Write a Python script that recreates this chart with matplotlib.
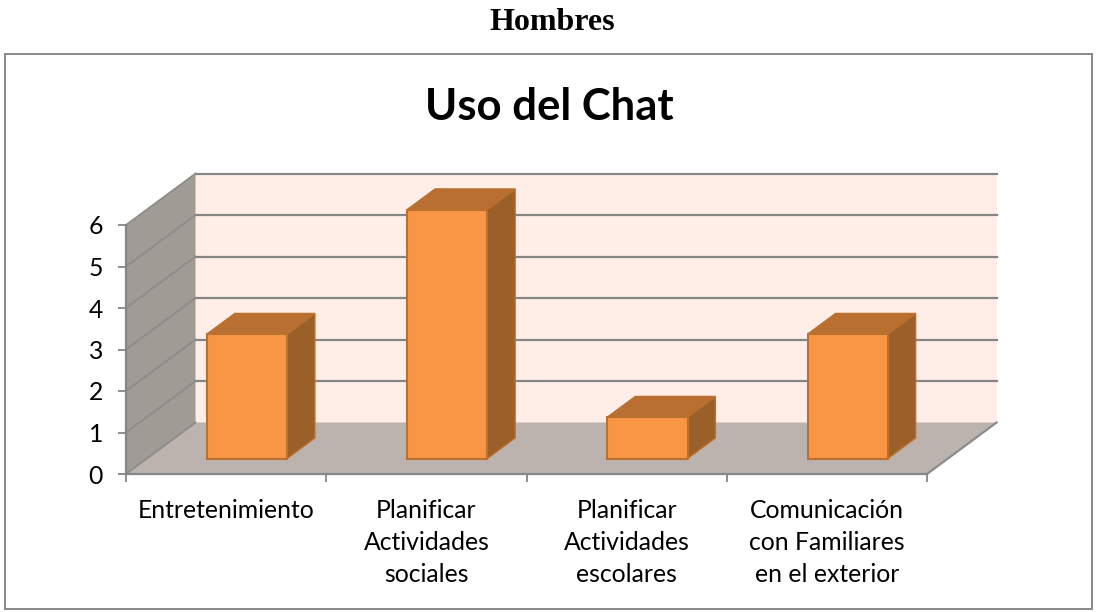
import matplotlib
matplotlib.use("Agg")
import matplotlib.pyplot as plt
from matplotlib.patches import Polygon, Rectangle

categories = ["Entretenimiento", "Planificar\nActividades\nsociales",
              "Planificar\nActividades\nescolares",
              "Comunicación\ncon Familiares\nen el exterior"]
values = [3, 6, 1, 3]
y_ticks = [0, 1, 2, 3, 4, 5, 6]
heading = "Hombres"
title = "Uso del Chat"

W, H = 1096, 612
GREY = "#868686"
FONT = "Lato"

fig = plt.figure(figsize=(W / 100, H / 100), dpi=100, facecolor="white")
fig.add_artist(Rectangle((4.5 / W, 1 - 609 / H), 1087 / W, 555 / H, transform=fig.transFigure,
                         fill=False, edgecolor="#7f7f7f", linewidth=1.3))

# Front plane of the 3D box, in pixels of the figure
L, R, Y0, Y6 = 126, 927, 474, 225
ax = fig.add_axes([L / W, 1 - Y0 / H, (R - L) / W, (Y0 - Y6) / H])
ax.set_xlim(0, len(categories))
ax.set_ylim(0, 6)
ax.patch.set_visible(False)

# Depth vector of the box, in data units
DX = 69.5 / 200
DY = 51.5 / 41.5


def proj(x, y, d):
    return (x + d * DX, y + d * DY)


n = len(categories)
top = y_ticks[-1]


def face(points, color, z, edge="none", lw=0):
    ax.add_patch(Polygon([proj(*p) for p in points], closed=True, facecolor=color,
                         edgecolor=edge, linewidth=lw, zorder=z, clip_on=False,
                         joinstyle="miter"))


# Walls and floor
face([(0, 0, 1), (n, 0, 1), (n, top, 1), (0, top, 1)], "#FEEEE7", 1)
face([(0, 0, 0), (0, 0, 1), (0, top, 1), (0, top, 0)], "#A19B96", 1)
face([(0, 0, 0), (n, 0, 0), (n, 0, 1), (0, 0, 1)], "#BDB3AE", 1)

# Grid lines: along left wall and back wall
for v in y_ticks:
    a, b, c = proj(0, v, 0), proj(0, v, 1), proj(n, v, 1)
    ax.plot([a[0], b[0]], [a[1], b[1]], color="#8c8c88", lw=1.3, zorder=2, clip_on=False)
    if v > 0:
        ax.plot([b[0], c[0]], [b[1], c[1]], color=GREY, lw=1.6, zorder=2, clip_on=False)
e1, e2 = proj(n, 0, 0), proj(n, 0, 1)
ax.plot([e1[0], e2[0]], [e1[1], e2[1]], color="#8c8c8c", lw=1.6, zorder=2, clip_on=False)

# Bars
BAR = 0.4
D0, D1 = 0.3, 0.7
EDGE = "#BA702F"
for i, v in enumerate(values):
    x0, x1 = i + 0.5 - BAR / 2, i + 0.5 + BAR / 2
    face([(x1, 0, D0), (x1, 0, D1), (x1, v, D1), (x1, v, D0)], "#9B5F2A", 3, EDGE, 1.0)
    face([(x0, v, D0), (x1, v, D0), (x1, v, D1), (x0, v, D1)], "#B96F32", 3, EDGE, 1.0)
    face([(x0, 0, D0), (x1, 0, D0), (x1, v, D0), (x0, v, D0)], "#F99646", 4, EDGE, 1.5)

# Axes
for s in ("top", "right"):
    ax.spines[s].set_visible(False)
for s in ("left", "bottom"):
    ax.spines[s].set_color(GREY)
    ax.spines[s].set_linewidth(1.6)
    ax.spines[s].set_zorder(5)
ax.set_yticks(y_ticks)
ax.set_yticklabels([str(v) for v in y_ticks], fontname=FONT, fontsize=17.8, color="black")
ax.tick_params(axis="y", length=5.5, width=1.3, color=GREY, pad=11)
ax.set_xticks(range(n + 1))
ax.set_xticklabels([])
ax.tick_params(axis="x", which="major", length=5.5, width=1.3, color=GREY)
ax.set_xticks([i + 0.5 for i in range(n)], minor=True)
ax.set_xticklabels(categories, minor=True, fontname=FONT, fontsize=17.8, color="black",
                   linespacing=1.485, va="top")
ax.tick_params(axis="x", which="minor", length=0, pad=18)

fig.text(552 / W, 1 - 22 / H, heading, ha="center", va="center",
         fontname="Liberation Serif", fontweight="bold", fontsize=23, color="black")
fig.text(549 / W, 1 - 107 / H, title, ha="center", va="center",
         fontname=FONT, fontweight="bold", fontsize=31.4, color="black")

fig.savefig("out.png", dpi=100)
